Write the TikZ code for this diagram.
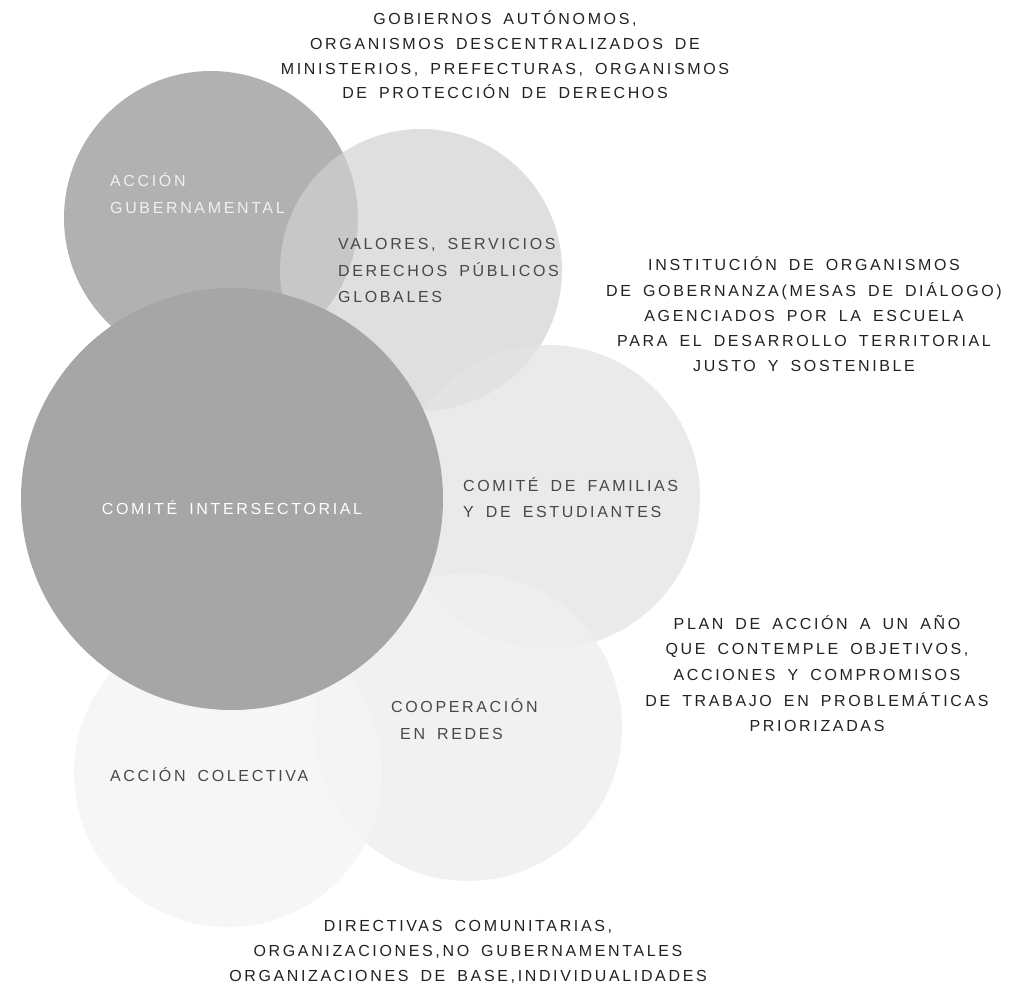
\documentclass[tikz,border=0pt]{standalone}
\usepackage{fontspec}
\setmainfont{Liberation Sans}
\newfontfamily\trackedfont{Liberation Sans}[LetterSpace=16.5, WordSpace=1.7]
\definecolor{gubfill}{HTML}{B1B1B1}
\definecolor{interfill}{HTML}{A6A6A6}
\definecolor{inktext}{HTML}{222222}
\definecolor{midtext}{HTML}{484848}
\begin{document}
\begin{tikzpicture}[x=1pt,y=-1pt,
  bubble/.style={circle, draw=none, inner sep=0pt, minimum size=#1},
  caption/.style={font=\trackedfont\fontsize{16}{#1}\selectfont, inner sep=0pt, align=center, text=inktext},
  tag/.style={font=\trackedfont\fontsize{16}{26.5}\selectfont, inner sep=0pt, align=left, anchor=west},
]
\useasboundingbox (0,0) rectangle (1022,989);
\fill[white] (0,0) rectangle (1022,989);

% circles, back to front
\node[bubble=294pt, fill=gubfill] (gub) at (211,218) {};
\node[bubble=282pt, fill={rgb,255:red,210;green,210;blue,210}, fill opacity=0.69] (val) at (421,270) {};
\node[bubble=304pt, fill={rgb,255:red,228;green,228;blue,228}, fill opacity=0.77] (fam) at (548,497) {};
\node[bubble=308pt, fill={rgb,255:red,239;green,239;blue,239}, fill opacity=0.86] (coop) at (468,727) {};
\node[bubble=308pt, fill={rgb,255:red,245;green,245;blue,245}, fill opacity=0.86] (colec) at (228,773) {};
\node[bubble=422pt, fill=interfill] (inter) at (232,499) {};

% labels inside the circles
\node[tag, text=white!94!black] (gubtxt) at (110,193) {ACCIÓN\\GUBERNAMENTAL};
\node[tag, text=midtext] (valtxt) at (338,270.5) {VALORES, SERVICIOS\\DERECHOS PÚBLICOS\\GLOBALES};
\node[tag, text=white, anchor=center] (intertxt) at (232,508) {COMITÉ INTERSECTORIAL};
\node[tag, text=midtext] (famtxt) at (463,497.5) {COMITÉ DE FAMILIAS\\Y DE ESTUDIANTES};
\node[tag, text=midtext] (cooptxt) at (391,719) {COOPERACIÓN\\\hspace*{9pt}EN REDES};
\node[tag, text=midtext] (colectxt) at (110,775) {ACCIÓN COLECTIVA};

% outer captions
\node[caption=24.7] (top) at (505,55)
  {GOBIERNOS AUTÓNOMOS,\\ORGANISMOS DESCENTRALIZADOS DE\\MINISTERIOS, PREFECTURAS, ORGANISMOS\\DE PROTECCIÓN DE DERECHOS};
\node[caption=25.3] (right) at (804,314.5)
  {INSTITUCIÓN DE ORGANISMOS\\DE GOBERNANZA(MESAS DE DIÁLOGO)\\AGENCIADOS POR LA ESCUELA\\PARA EL DESARROLLO TERRITORIAL\\JUSTO Y SOSTENIBLE};
\node[caption=25.7] (plan) at (817,673.5)
  {PLAN DE ACCIÓN A UN AÑO\\QUE CONTEMPLE OBJETIVOS,\\ACCIONES Y COMPROMISOS\\DE TRABAJO EN PROBLEMÁTICAS\\PRIORIZADAS};
\node[caption=25] (bottom) at (468,952)
  {DIRECTIVAS COMUNITARIAS,\\ORGANIZACIONES,NO GUBERNAMENTALES\\ORGANIZACIONES DE BASE,INDIVIDUALIDADES};
\end{tikzpicture}
\end{document}
